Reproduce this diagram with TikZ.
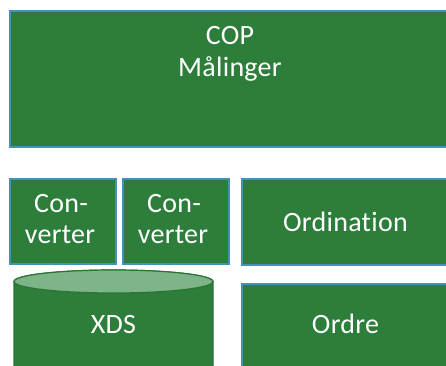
\documentclass[tikz,border=0pt]{standalone}
\usepackage{fontspec}
\setmainfont{Carlito}[Ligatures={NoCommon}, LetterSpace=1]
\definecolor{boxgreen}{HTML}{2D7E3A}
\definecolor{boxedge}{HTML}{4590B8}
\definecolor{cylrim}{HTML}{2A7534}
\definecolor{cyltop}{HTML}{7DB588}
\tikzset{
  block/.style={rectangle, fill=boxgreen, draw=boxedge, line width=2pt,
    inner sep=0pt, anchor=north west},
  label/.style={text=white, font=\fontsize{28}{32}\selectfont, inner sep=0pt, anchor=base}
}
\begin{document}
\begin{tikzpicture}[x=1pt,y=-1pt]
\useasboundingbox (0,0) rectangle (446,365);
\clip (0,0) rectangle (446,365);
% top panel, text set at its top edge
\node[block, minimum width=442pt, minimum height=136pt] (cop) at (9,10) {};
\node[label] (coptitle) at (230,44) {COP};
\node[label] (copsub) at (230,76) {Målinger};
% converters
\node[block, minimum width=106pt, minimum height=85pt] (conv1) at (9,178) {};
\node[label] (conv1a) at (61,212) {Con-};
\node[label] (conv1b) at (60,243) {verter};
\node[block, minimum width=106pt, minimum height=85pt] (conv2) at (122,178) {};
\node[label] (conv2a) at (174,212) {Con-};
\node[label] (conv2b) at (173,243) {verter};
% right column
\node[block, minimum width=210pt, minimum height=86pt] (ordination) at (241,178) {};
\node[label] (ordinationtext) at (345.5,231) {Ordination};
\node[block, minimum width=210pt, minimum height=84pt] (ordre) at (241,283) {};
\node[label] (ordretext) at (345.5,333) {Ordre};
% XDS store drawn as a cylinder
\fill[boxgreen, draw=cylrim, line width=1.2pt]
  (14,281.5) -- (14,372) arc[start angle=180, end angle=360, x radius=99.5pt, y radius=11.5pt]
  -- (213,281.5) arc[start angle=0, end angle=180, x radius=99.5pt, y radius=11.5pt] -- cycle;
\draw[fill=cyltop, draw=cylrim, line width=1.2pt] (113.5,281.5) ellipse[x radius=99.5pt, y radius=11.5pt];
\node[label] (xds) at (113.5,333) {XDS};
\end{tikzpicture}
\end{document}
